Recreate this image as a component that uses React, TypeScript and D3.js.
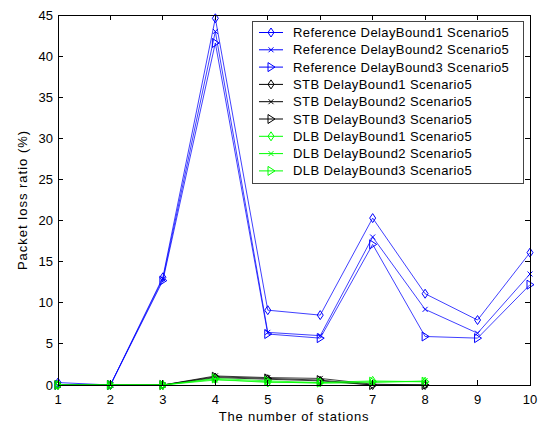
import React from 'react';
import * as d3 from 'd3';

// stations on the x axis
const stations = [1, 2, 3, 4, 5, 6, 7, 8, 9, 10];
const stationsShort = [1, 2, 3, 4, 5, 6, 7, 8];

// packet loss ratio (%)
const ref1 = [0.3, 0, 13.1, 44.6, 9.1, 8.5, 20.3, 11.1, 7.9, 16.1];
const ref2 = [0, 0, 12.9, 43.0, 6.4, 6.0, 18.0, 9.2, 6.3, 13.5];
const ref3 = [0, 0, 12.7, 41.6, 6.2, 5.7, 17.1, 5.9, 5.7, 12.2];
const stb1 = [0, 0, 0, 0.9, 0.7, 0.5, 0, 0];
const stb2 = [0, 0, 0, 1.1, 0.9, 0.8, 0.1, 0];
const stb3 = [0, 0, 0, 1.0, 0.8, 0.6, 0, 0];
const dlb1 = [0, 0, 0, 0.7, 0.3, 0.3, 0.5, 0.4];
const dlb2 = [0, 0, 0, 0.6, 0.4, 0.2, 0.3, 0.5];
const dlb3 = [0, 0, 0, 0.8, 0.5, 0.3, 0.4, 0.4];

const xTicks = [1, 2, 3, 4, 5, 6, 7, 8, 9, 10];
const yTicks = [0, 5, 10, 15, 20, 25, 30, 35, 40, 45];

type Series = { name: string; color: string; marker: 'diamond' | 'x' | 'tri'; xs: number[]; ys: number[] };

const series: Series[] = [
  { name: 'Reference DelayBound1 Scenario5', color: '#0000ff', marker: 'diamond', xs: stations, ys: ref1 },
  { name: 'Reference DelayBound2 Scenario5', color: '#0000ff', marker: 'x', xs: stations, ys: ref2 },
  { name: 'Reference DelayBound3 Scenario5', color: '#0000ff', marker: 'tri', xs: stations, ys: ref3 },
  { name: 'STB DelayBound1 Scenario5', color: '#000000', marker: 'diamond', xs: stationsShort, ys: stb1 },
  { name: 'STB DelayBound2 Scenario5', color: '#000000', marker: 'x', xs: stationsShort, ys: stb2 },
  { name: 'STB DelayBound3 Scenario5', color: '#000000', marker: 'tri', xs: stationsShort, ys: stb3 },
  { name: 'DLB DelayBound1 Scenario5', color: '#00ff00', marker: 'diamond', xs: stationsShort, ys: dlb1 },
  { name: 'DLB DelayBound2 Scenario5', color: '#00ff00', marker: 'x', xs: stationsShort, ys: dlb2 },
  { name: 'DLB DelayBound3 Scenario5', color: '#00ff00', marker: 'tri', xs: stationsShort, ys: dlb3 },
];

const Marker = ({ type, x, y, color }: { type: string; x: number; y: number; color: string }) => {
  if (type === 'diamond') {
    return <path d={`M${x},${y - 4.5}L${x + 3},${y}L${x},${y + 4.5}L${x - 3},${y}Z`} fill="none" stroke={color} strokeWidth={1} />;
  }
  if (type === 'x') {
    return <path d={`M${x - 2.5},${y - 2.5}L${x + 2.5},${y + 2.5}M${x - 2.5},${y + 2.5}L${x + 2.5},${y - 2.5}`} fill="none" stroke={color} strokeWidth={1} />;
  }
  return <path d={`M${x - 3},${y - 4.5}L${x + 4},${y}L${x - 3},${y + 4.5}Z`} fill="none" stroke={color} strokeWidth={1} />;
};

const App = () => {
  const left = 58, right = 530, top = 15, bottom = 385;
  const x = d3.scaleLinear().domain([1, 10]).range([left, right]);
  const y = d3.scaleLinear().domain([0, 45]).range([bottom, top]);
  const font = 'Arial, "Liberation Sans", sans-serif';

  const lineGen = d3.line<[number, number]>().x(d => x(d[0])).y(d => y(d[1]));

  const legX = 252, legY = 21, legW = 271, legH = 162, rowH = 17.3;

  return (
    <svg width={546} height={426} style={{ position: 'absolute', left: 0, top: 0, background: '#fff' }} fontFamily={font}>
      <rect x={0} y={0} width={546} height={426} fill="#fff" />
      <g>
        {series.map((s, i) => (
          <g key={i}>
            <path d={lineGen(s.xs.map((v, j) => [v, s.ys[j]] as [number, number])) || ''} fill="none" stroke={s.color} strokeWidth={1} strokeOpacity={0.75} />
            {s.xs.map((v, j) => (
              <Marker key={j} type={s.marker} x={x(v)} y={y(s.ys[j])} color={s.color} />
            ))}
          </g>
        ))}
      </g>
      {/* box */}
      <rect x={left} y={top} width={right - left} height={bottom - top} fill="none" stroke="#000" strokeWidth={1} shapeRendering="crispEdges" />
      {/* ticks */}
      {xTicks.map(t => (
        <g key={'x' + t}>
          <line x1={x(t)} x2={x(t)} y1={bottom} y2={bottom - 5} stroke="#000" shapeRendering="crispEdges" />
          <line x1={x(t)} x2={x(t)} y1={top} y2={top + 5} stroke="#000" shapeRendering="crispEdges" />
          <text x={x(t)} y={bottom + 19} textAnchor="middle" fontSize={13}>{t}</text>
        </g>
      ))}
      {yTicks.map(t => (
        <g key={'y' + t}>
          <line x1={left} x2={left + 5} y1={y(t)} y2={y(t)} stroke="#000" shapeRendering="crispEdges" />
          <line x1={right} x2={right - 5} y1={y(t)} y2={y(t)} stroke="#000" shapeRendering="crispEdges" />
          <text x={left - 5} y={y(t) + 4.5} textAnchor="end" fontSize={13}>{t}</text>
        </g>
      ))}
      <text x={(left + right) / 2} y={421} textAnchor="middle" fontSize={13} letterSpacing={0.8}>The number of stations</text>
      <text transform={`translate(27,${(top + bottom) / 2}) rotate(-90)`} textAnchor="middle" fontSize={13} letterSpacing={1}>Packet loss ratio (%)</text>
      {/* legend */}
      <rect x={legX} y={legY} width={legW} height={legH} fill="#fff" stroke="#444" strokeWidth={1} shapeRendering="crispEdges" />
      {series.map((s, i) => {
        const cy = legY + 11.5 + i * rowH;
        return (
          <g key={'l' + i}>
            <line x1={259} x2={283} y1={cy} y2={cy} stroke={s.color} strokeWidth={1} />
            <Marker type={s.marker} x={271} y={cy} color={s.color} />
            <text x={293} y={cy + 4.5} fontSize={13} letterSpacing={0.4}>{s.name}</text>
          </g>
        );
      })}
    </svg>
  );
};

export default App;
